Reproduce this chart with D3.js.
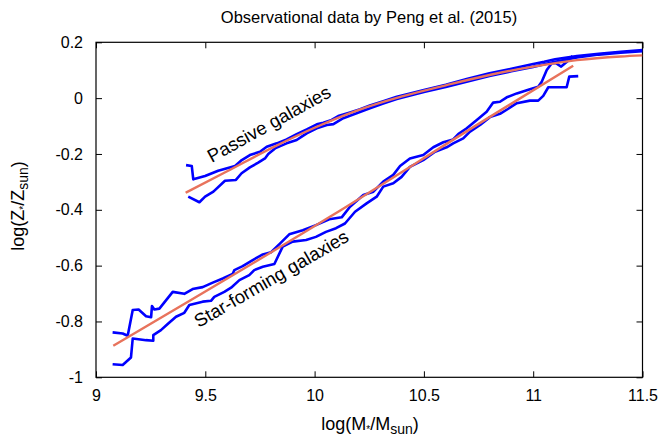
<!DOCTYPE html>
<html><head><meta charset="utf-8">
<script src="https://cdn.jsdelivr.net/npm/d3@7"></script>
<style>body{margin:0;background:#fff}svg{display:block;font-family:"Liberation Sans",Arial,sans-serif}</style>
</head><body><svg id="c" width="666" height="437"></svg>
<script>
// ---- data ----
const xTicks = [9, 9.5, 10, 10.5, 11, 11.5];
const yTicks = [0.2, 0, -0.2, -0.4, -0.6, -0.8, -1];
const xTickLabels = ["9", "9.5", "10", "10.5", "11", "11.5"];
const yTickLabels = ["0.2", "0", "-0.2", "-0.4", "-0.6", "-0.8", "-1"];

const passiveUpperX = [9.412,9.438,9.445,9.499,9.559,9.636,9.667,9.704,9.750,9.781,9.827,9.872,9.918,9.964,10.010,10.040,10.078,10.108,10.162,10.208,10.253,10.314,10.376,10.45,10.5,10.6,10.7,10.8,10.9,11.0,11.05,11.1,11.2,11.3,11.4,11.5];
const passiveUpperY = [-0.240,-0.243,-0.291,-0.279,-0.260,-0.243,-0.222,-0.204,-0.192,-0.174,-0.162,-0.148,-0.129,-0.112,-0.094,-0.088,-0.078,-0.064,-0.051,-0.040,-0.026,-0.011,0.005,0.019,0.029,0.048,0.069,0.089,0.105,0.122,0.130,0.139,0.151,0.159,0.166,0.172];

const passiveLowerX = [9.422,9.473,9.499,9.537,9.590,9.640,9.666,9.704,9.742,9.773,9.788,9.819,9.872,9.918,9.941,9.964,10.010,10.056,10.086,10.131,10.192,10.253,10.314,10.376,10.5,10.6,10.7,10.8,10.9,11.0,11.1,11.2,11.3,11.4,11.5];
const passiveLowerY = [-0.353,-0.373,-0.353,-0.335,-0.296,-0.293,-0.269,-0.248,-0.231,-0.216,-0.200,-0.180,-0.162,-0.150,-0.138,-0.126,-0.108,-0.096,-0.093,-0.072,-0.054,-0.036,-0.019,-0.003,0.022,0.040,0.060,0.079,0.096,0.112,0.130,0.146,0.156,0.163,0.168];

const passiveFitX = [9.41,9.6,9.8,10.0,10.2,10.4,10.6,10.8,11.0,11.2,11.4,11.5];
const passiveFitY = [-0.339,-0.262,-0.180,-0.106,-0.043,0.006,0.046,0.083,0.113,0.136,0.149,0.153];

const sfUpperX = [9.076,9.122,9.145,9.168,9.195,9.229,9.252,9.256,9.267,9.290,9.351,9.404,9.442,9.488,9.534,9.580,9.625,9.633,9.671,9.717,9.763,9.801,9.839,9.884,9.946,10.006,10.067,10.124,10.162,10.223,10.269,10.314,10.360,10.391,10.436,10.497,10.543,10.589,10.634,10.657,10.696,10.742,10.787,10.817,10.848,10.879,10.925,10.985,11.023,11.039,11.062,11.085,11.104,11.128,11.146,11.164,11.180];
const sfUpperY = [-0.839,-0.843,-0.851,-0.759,-0.757,-0.781,-0.785,-0.745,-0.757,-0.754,-0.694,-0.701,-0.684,-0.677,-0.661,-0.646,-0.630,-0.616,-0.602,-0.580,-0.560,-0.552,-0.523,-0.488,-0.473,-0.455,-0.434,-0.427,-0.389,-0.347,-0.335,-0.299,-0.275,-0.243,-0.216,-0.204,-0.176,-0.158,-0.148,-0.129,-0.108,-0.078,-0.049,-0.016,-0.013,0.003,0.017,0.032,0.041,0.059,0.101,0.125,0.125,0.113,0.125,0.137,0.151];

const sfLowerX = [9.076,9.122,9.160,9.168,9.229,9.262,9.262,9.297,9.328,9.366,9.404,9.427,9.488,9.526,9.541,9.587,9.618,9.656,9.701,9.724,9.763,9.816,9.854,9.900,9.961,10.006,10.052,10.098,10.139,10.185,10.238,10.284,10.314,10.360,10.398,10.436,10.497,10.551,10.604,10.634,10.680,10.711,10.757,10.802,10.848,10.886,10.925,10.985,11.023,11.046,11.069,11.153,11.165,11.206];
const sfLowerY = [-0.953,-0.956,-0.929,-0.861,-0.867,-0.869,-0.849,-0.831,-0.809,-0.783,-0.769,-0.741,-0.729,-0.726,-0.712,-0.694,-0.679,-0.652,-0.634,-0.616,-0.604,-0.594,-0.532,-0.514,-0.508,-0.497,-0.479,-0.466,-0.449,-0.407,-0.377,-0.353,-0.317,-0.305,-0.282,-0.246,-0.222,-0.192,-0.176,-0.162,-0.144,-0.120,-0.096,-0.068,-0.056,-0.038,-0.018,-0.009,-0.009,0.008,0.039,0.039,0.077,0.079];

const sfFitX = [9.079,10.07,10.8,11.183];
const sfFitY = [-0.887,-0.425,-0.068,0.116];

// ---- drawing ----
const svg = d3.select("#c");
const L = 96, R = 642.5, T = 42.3, B = 377.3;
const x = d3.scaleLinear().domain([9, 11.5]).range([L, R]);
const y = d3.scaleLinear().domain([-1, 0.2]).range([B, T]);

const blue = "#0000ff", red = "#e8735c";

const axB = d3.axisBottom(x).tickValues(xTicks).tickSizeInner(-6).tickSizeOuter(0).tickPadding(12).tickFormat((d,i)=>xTickLabels[i]);
const axT = d3.axisTop(x).tickValues(xTicks).tickSizeInner(-6).tickSizeOuter(0).tickFormat("");
const axL = d3.axisLeft(y).tickValues(yTicks).tickSizeInner(-6).tickSizeOuter(0).tickPadding(13).tickFormat((d,i)=>yTickLabels[i]);
const axR = d3.axisRight(y).tickValues(yTicks).tickSizeInner(-6).tickSizeOuter(0).tickFormat("");

function style(g){ g.select(".domain").remove(); g.selectAll("line").attr("stroke","#000"); g.selectAll("text").attr("font-size",16).attr("fill","#000").attr("font-family","Liberation Sans, Arial, sans-serif"); }
svg.append("g").attr("transform",`translate(0,${B})`).call(axB).call(style);
svg.append("g").attr("transform",`translate(0,${T})`).call(axT).call(style);
svg.append("g").attr("transform",`translate(${L},0)`).call(axL).call(style);
svg.append("g").attr("transform",`translate(${R},0)`).call(axR).call(style);
svg.append("rect").attr("x",L).attr("y",T).attr("width",R-L).attr("height",B-T).attr("fill","none").attr("stroke","#000").attr("stroke-width",1.2);

svg.append("clipPath").attr("id","pc").append("rect").attr("x",L).attr("y",T).attr("width",R-L).attr("height",B-T);
const plot = svg.append("g").attr("clip-path","url(#pc)");

function draw(xs, ys, color, w, curve){
  const pts = xs.map((v,i)=>[v, ys[i]]);
  const line = d3.line().x(d=>x(d[0])).y(d=>y(d[1]));
  if (curve) line.curve(curve);
  plot.append("path").attr("d", line(pts)).attr("fill","none").attr("stroke",color).attr("stroke-width",w).attr("stroke-linejoin","round");
}
draw(passiveUpperX, passiveUpperY, blue, 2.6);
draw(passiveLowerX, passiveLowerY, blue, 2.6);
draw(sfUpperX, sfUpperY, blue, 2.6);
draw(sfLowerX, sfLowerY, blue, 2.6);
draw(passiveFitX, passiveFitY, red, 2.4, d3.curveMonotoneX);
draw(sfFitX, sfFitY, red, 2.4, d3.curveMonotoneX);

// labels in plot
svg.append("text").attr("transform",`translate(${x(9.53)},${y(-0.232)}) rotate(-29)`).attr("font-size",18.5).text("Passive galaxies");
svg.append("text").attr("transform",`translate(${x(9.47)},${y(-0.823)}) rotate(-30)`).attr("font-size",18.5).text("Star-forming galaxies");

// title
svg.append("text").attr("x",369).attr("y",23).attr("text-anchor","middle").attr("font-size",16.5).text("Observational data by Peng et al. (2015)");

// x-axis title
const xt = svg.append("text").attr("x",370).attr("y",430).attr("text-anchor","middle").attr("font-size",18);
xt.append("tspan").text("log(M");
xt.append("tspan").attr("font-size",10).attr("dy",3).text("*");
xt.append("tspan").attr("dy",-3).text("/M");
xt.append("tspan").attr("font-size",14).attr("dy",4).text("sun");
xt.append("tspan").attr("dy",-4).text(")");

// y-axis title
const yt = svg.append("text").attr("transform",`translate(24,206) rotate(-90)`).attr("text-anchor","middle").attr("font-size",18);
yt.append("tspan").text("log(Z");
yt.append("tspan").attr("font-size",10).attr("dy",3).text("*");
yt.append("tspan").attr("dy",-3).text("/Z");
yt.append("tspan").attr("font-size",14).attr("dy",4).text("sun");
yt.append("tspan").attr("dy",-4).text(")");
</script></body></html>
